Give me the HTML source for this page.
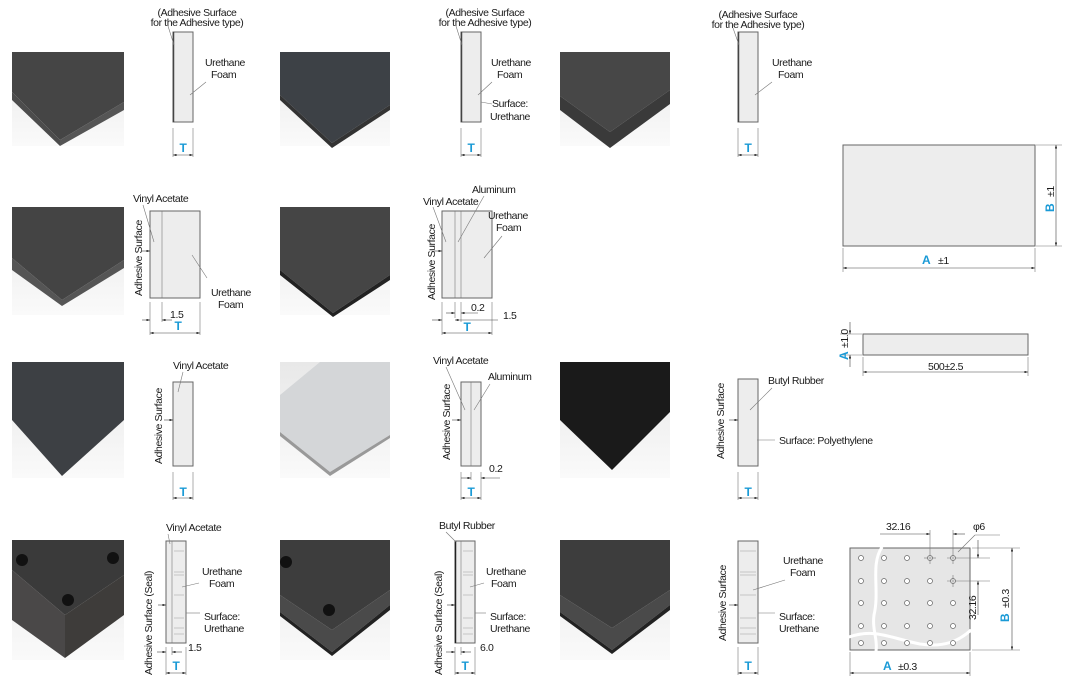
<!DOCTYPE html>
<html><head><style>
body{margin:0;background:#fff}
svg{display:block;font-family:"Liberation Sans",sans-serif;font-size:10.5px;letter-spacing:-0.4px}
.t{fill:#1a1a1a}
.b{fill:#1a9ad6;font-weight:bold;font-size:12px}
.r{fill:#ededed;stroke:#666;stroke-width:1}
.l{stroke:#777;stroke-width:0.6;fill:none}
.d{stroke:#444;stroke-width:0.6;fill:none}
</style></head><body>
<svg width="1069" height="690" viewBox="0 0 1069 690">
<defs>
<linearGradient id="bg" x1="0" y1="0" x2="0" y2="1"><stop offset="0" stop-color="#e8e8e8"/><stop offset="1" stop-color="#fafafa"/></linearGradient>
<marker id="a" viewBox="0 0 6 4" refX="6" refY="2" markerWidth="6" markerHeight="4" orient="auto-start-reverse"><path d="M0,0L6,2L0,4z" fill="#222"/></marker>
</defs>

<g>
<rect x="12" y="52" width="112" height="94" fill="url(#bg)"/>
<polygon points="12,52 124,52 124,102 60,140 12,92" fill="#454545"/>
<polygon points="12,92 60,140 60,146 12,100" fill="#4c4c4c"/>
<polygon points="60,140 124,102 124,110 60,146" fill="#555"/>
<rect x="280" y="52" width="110" height="94" fill="url(#bg)"/>
<polygon points="280,52 390,52 390,105 332,143 280,95" fill="#3d4146"/>
<polygon points="280,95 332,143 390,105 390,110 332,148 280,100" fill="#333"/>
<rect x="560" y="52" width="110" height="94" fill="url(#bg)"/>
<polygon points="560,52 670,52 670,90 610,132 560,96" fill="#474747"/>
<polygon points="560,96 610,132 670,90 670,104 610,148 560,110" fill="#3a3a3a"/>
<rect x="12" y="207" width="112" height="108" fill="url(#bg)"/>
<polygon points="12,207 124,207 124,260 62,300 12,258" fill="#444"/>
<polygon points="12,258 62,300 124,260 124,268 62,306 12,270" fill="#555"/>
<rect x="280" y="207" width="110" height="108" fill="url(#bg)"/>
<polygon points="280,207 390,207 390,275 333,313 280,270" fill="#454545"/>
<polygon points="280,270 333,313 390,275 390,280 333,317 280,275" fill="#222"/>
<rect x="12" y="362" width="112" height="116" fill="url(#bg)"/>
<polygon points="12,362 124,362 124,420 62,476 12,420" fill="#3d4044"/>
<rect x="280" y="362" width="110" height="116" fill="url(#bg)"/>
<polygon points="280,395 320,362 390,362 390,435 330,472 280,432" fill="#d4d6d8"/>
<polygon points="280,432 330,472 390,435 390,438 330,476 280,436" fill="#999"/>
<rect x="560" y="362" width="110" height="116" fill="url(#bg)"/>
<polygon points="560,362 670,362 670,412 612,470 560,420" fill="#1a1a1a"/>
<rect x="12" y="540" width="112" height="120" fill="url(#bg)"/>
<polygon points="12,540 124,540 124,575 65,615 12,570" fill="#3a3a3a"/>
<polygon points="12,570 65,615 65,658 12,620" fill="#4a4848"/>
<polygon points="65,615 124,575 124,615 65,658" fill="#3e3c3a"/>
<circle cx="22" cy="560" r="6" fill="#111"/><circle cx="113" cy="558" r="6" fill="#111"/><circle cx="68" cy="600" r="6" fill="#111"/>
<rect x="280" y="540" width="110" height="120" fill="url(#bg)"/>
<polygon points="280,540 390,540 390,590 332,630 280,595" fill="#3d3d3d"/>
<polygon points="280,595 332,630 390,590 390,605 332,652 280,612" fill="#4a4a4a"/>
<polygon points="280,612 332,652 390,605 390,610 332,656 280,616" fill="#222"/>
<circle cx="286" cy="562" r="6" fill="#111"/><circle cx="329" cy="610" r="6" fill="#111"/>
<rect x="560" y="540" width="110" height="120" fill="url(#bg)"/>
<polygon points="560,540 670,540 670,590 612,628 560,595" fill="#3d3d3d"/>
<polygon points="560,595 612,628 670,590 670,605 612,650 560,612" fill="#4a4a4a"/>
<polygon points="560,612 612,650 670,605 670,610 612,654 560,616" fill="#222"/>
</g>

<g>
<rect class="r" x="173" y="32" width="20" height="90"/><line x1="173.5" y1="32" x2="173.5" y2="122" stroke="#444" stroke-width="1.5"/>
<text class="t" x="197" y="16" text-anchor="middle">(Adhesive Surface</text><text class="t" x="197" y="26" text-anchor="middle">for the Adhesive type)</text>
<line class="l" x1="168" y1="26" x2="174" y2="45"/>
<text class="t" x="205" y="66">Urethane</text><text class="t" x="211" y="78">Foam</text><line class="l" x1="206" y1="82" x2="190" y2="95"/>
<line class="l" x1="173" y1="128" x2="173" y2="157"/><line class="l" x1="193" y1="128" x2="193" y2="157"/>
<text class="b" x="183" y="152" text-anchor="middle">T</text><line class="d" x1="173" y1="155" x2="193" y2="155" marker-start="url(#a)" marker-end="url(#a)"/>

<rect class="r" x="461" y="32" width="20" height="90"/><line x1="461.5" y1="32" x2="461.5" y2="122" stroke="#444" stroke-width="1.5"/>
<text class="t" x="485" y="16" text-anchor="middle">(Adhesive Surface</text><text class="t" x="485" y="26" text-anchor="middle">for the Adhesive type)</text>
<line class="l" x1="456" y1="26" x2="462" y2="45"/>
<text class="t" x="491" y="66">Urethane</text><text class="t" x="497" y="78">Foam</text><line class="l" x1="492" y1="82" x2="478" y2="95"/>
<text class="t" x="492" y="107">Surface:</text><text class="t" x="490" y="120">Urethane</text><line class="l" x1="481" y1="102" x2="492" y2="104"/>
<line class="l" x1="461" y1="128" x2="461" y2="157"/><line class="l" x1="481" y1="128" x2="481" y2="157"/>
<text class="b" x="471" y="152" text-anchor="middle">T</text><line class="d" x1="461" y1="155" x2="481" y2="155" marker-start="url(#a)" marker-end="url(#a)"/>

<rect class="r" x="738" y="32" width="20" height="90"/><line x1="738.5" y1="32" x2="738.5" y2="122" stroke="#444" stroke-width="1.5"/>
<text class="t" x="758" y="18" text-anchor="middle">(Adhesive Surface</text><text class="t" x="758" y="28" text-anchor="middle">for the Adhesive type)</text>
<line class="l" x1="733" y1="28" x2="739" y2="45"/>
<text class="t" x="772" y="66">Urethane</text><text class="t" x="778" y="78">Foam</text><line class="l" x1="772" y1="82" x2="755" y2="95"/>
<line class="l" x1="738" y1="128" x2="738" y2="157"/><line class="l" x1="758" y1="128" x2="758" y2="157"/>
<text class="b" x="748" y="152" text-anchor="middle">T</text><line class="d" x1="738" y1="155" x2="758" y2="155" marker-start="url(#a)" marker-end="url(#a)"/>
</g>

<g>
<rect class="r" x="150" y="211" width="50" height="87"/><line class="l" x1="162" y1="211" x2="162" y2="298"/>
<text class="t" x="133" y="202">Vinyl Acetate</text><line class="l" x1="143" y1="205" x2="154" y2="242"/>
<text class="t" transform="translate(142,296) rotate(-90)">Adhesive Surface</text>
<line class="d" x1="142" y1="251" x2="150" y2="251" marker-end="url(#a)"/>
<text class="t" x="211" y="296">Urethane</text><text class="t" x="218" y="308">Foam</text><line class="l" x1="207" y1="278" x2="192" y2="255"/>
<line class="l" x1="150" y1="302" x2="150" y2="335"/><line class="l" x1="162" y1="302" x2="162" y2="322"/><line class="l" x1="200" y1="302" x2="200" y2="335"/>
<text class="t" x="170" y="318">1.5</text><line class="d" x1="142" y1="320" x2="150" y2="320" marker-end="url(#a)"/><line class="d" x1="162" y1="320" x2="172" y2="320" marker-start="url(#a)"/>
<text class="b" x="178" y="330" text-anchor="middle">T</text><line class="d" x1="150" y1="333" x2="200" y2="333" marker-start="url(#a)" marker-end="url(#a)"/>

<rect class="r" x="442" y="211" width="50" height="87"/><line class="l" x1="455" y1="211" x2="455" y2="298"/><line class="l" x1="461" y1="211" x2="461" y2="298"/>
<text class="t" x="423" y="205">Vinyl Acetate</text><line class="l" x1="433" y1="207" x2="446" y2="242"/>
<text class="t" x="472" y="193">Aluminum</text><line class="l" x1="484" y1="196" x2="458" y2="242"/>
<text class="t" x="488" y="219">Urethane</text><text class="t" x="496" y="231">Foam</text><line class="l" x1="502" y1="236" x2="484" y2="258"/>
<text class="t" transform="translate(435,300) rotate(-90)">Adhesive Surface</text>
<line class="d" x1="434" y1="251" x2="442" y2="251" marker-end="url(#a)"/>
<line class="l" x1="442" y1="302" x2="442" y2="335"/><line class="l" x1="455" y1="302" x2="455" y2="318"/><line class="l" x1="461" y1="302" x2="461" y2="322"/><line class="l" x1="492" y1="302" x2="492" y2="335"/>
<line class="d" x1="446" y1="313" x2="455" y2="313" marker-end="url(#a)"/><line class="d" x1="461" y1="313" x2="478" y2="313" marker-start="url(#a)"/><text class="t" x="471" y="311">0.2</text>
<line class="d" x1="432" y1="320" x2="442" y2="320" marker-end="url(#a)"/><line class="d" x1="455" y1="320" x2="498" y2="320" marker-start="url(#a)"/><text class="t" x="503" y="319">1.5</text>
<text class="b" x="467" y="331" text-anchor="middle">T</text><line class="d" x1="442" y1="333" x2="492" y2="333" marker-start="url(#a)" marker-end="url(#a)"/>
</g>

<g>
<rect class="r" x="173" y="382" width="20" height="84"/>
<text class="t" x="173" y="369">Vinyl Acetate</text><line class="l" x1="183" y1="372" x2="178" y2="392"/>
<text class="t" transform="translate(162,464) rotate(-90)">Adhesive Surface</text>
<line class="d" x1="164" y1="420" x2="173" y2="420" marker-end="url(#a)"/>
<line class="l" x1="173" y1="472" x2="173" y2="500"/><line class="l" x1="193" y1="472" x2="193" y2="500"/>
<text class="b" x="183" y="496" text-anchor="middle">T</text><line class="d" x1="173" y1="498" x2="193" y2="498" marker-start="url(#a)" marker-end="url(#a)"/>

<rect class="r" x="461" y="382" width="20" height="84"/><line class="l" x1="471" y1="382" x2="471" y2="466"/>
<text class="t" x="433" y="364">Vinyl Acetate</text><line class="l" x1="446" y1="367" x2="465" y2="410"/>
<text class="t" x="488" y="380">Aluminum</text><line class="l" x1="490" y1="384" x2="474" y2="410"/>
<text class="t" transform="translate(450,460) rotate(-90)">Adhesive Surface</text>
<line class="d" x1="452" y1="420" x2="461" y2="420" marker-end="url(#a)"/>
<line class="l" x1="461" y1="472" x2="461" y2="500"/><line class="l" x1="471" y1="472" x2="471" y2="480"/><line class="l" x1="481" y1="472" x2="481" y2="500"/>
<line class="d" x1="461" y1="478" x2="471" y2="478" marker-end="url(#a)"/><line class="d" x1="481" y1="478" x2="500" y2="478" marker-start="url(#a)"/><text class="t" x="489" y="472">0.2</text>
<text class="b" x="471" y="496" text-anchor="middle">T</text><line class="d" x1="461" y1="498" x2="481" y2="498" marker-start="url(#a)" marker-end="url(#a)"/>

<rect class="r" x="738" y="379" width="20" height="87"/>
<text class="t" x="768" y="384">Butyl Rubber</text><line class="l" x1="772" y1="388" x2="750" y2="410"/>
<text class="t" x="779" y="444">Surface: Polyethylene</text><line class="l" x1="757" y1="440" x2="775" y2="440"/>
<text class="t" transform="translate(724,459) rotate(-90)">Adhesive Surface</text>
<line class="d" x1="729" y1="420" x2="738" y2="420" marker-end="url(#a)"/>
<line class="l" x1="738" y1="472" x2="738" y2="500"/><line class="l" x1="758" y1="472" x2="758" y2="500"/>
<text class="b" x="748" y="496" text-anchor="middle">T</text><line class="d" x1="738" y1="498" x2="758" y2="498" marker-start="url(#a)" marker-end="url(#a)"/>
</g>

<g>
<rect class="r" x="166" y="541" width="20" height="102"/><line class="l" x1="172" y1="541" x2="172" y2="643"/>
<g stroke="#aaa" stroke-width="0.6"><line x1="174" y1="551" x2="184" y2="551"/><line x1="174" y1="572" x2="184" y2="572"/><line x1="174" y1="575" x2="184" y2="575"/><line x1="174" y1="595" x2="184" y2="595"/><line x1="174" y1="618" x2="184" y2="618"/><line x1="174" y1="628" x2="184" y2="628"/><line x1="174" y1="634" x2="184" y2="634"/></g>
<text class="t" x="166" y="531">Vinyl Acetate</text><line class="l" x1="168" y1="534" x2="170" y2="544"/>
<text class="t" x="202" y="575">Urethane</text><text class="t" x="209" y="587">Foam</text><line class="l" x1="199" y1="583" x2="182" y2="587"/>
<text class="t" x="204" y="620">Surface:</text><text class="t" x="204" y="632">Urethane</text><line class="l" x1="186" y1="613" x2="200" y2="613"/>
<text class="t" transform="translate(152,675) rotate(-90)">Adhesive Surface (Seal)</text>
<line class="d" x1="158" y1="605" x2="166" y2="605" marker-end="url(#a)"/>
<line class="l" x1="166" y1="647" x2="166" y2="675"/><line class="l" x1="172" y1="647" x2="172" y2="655"/><line class="l" x1="186" y1="647" x2="186" y2="675"/>
<line class="d" x1="157" y1="652" x2="166" y2="652" marker-end="url(#a)"/><line class="d" x1="172" y1="652" x2="182" y2="652" marker-start="url(#a)"/><text class="t" x="188" y="651">1.5</text>
<text class="b" x="176" y="670" text-anchor="middle">T</text><line class="d" x1="166" y1="673" x2="186" y2="673" marker-start="url(#a)" marker-end="url(#a)"/>

<rect class="r" x="455" y="541" width="20" height="102"/><line x1="455.5" y1="541" x2="455.5" y2="643" stroke="#222" stroke-width="1.5"/><line class="l" x1="461" y1="541" x2="461" y2="643"/>
<g stroke="#aaa" stroke-width="0.6"><line x1="463" y1="551" x2="473" y2="551"/><line x1="463" y1="572" x2="473" y2="572"/><line x1="463" y1="575" x2="473" y2="575"/><line x1="463" y1="595" x2="473" y2="595"/><line x1="463" y1="618" x2="473" y2="618"/><line x1="463" y1="628" x2="473" y2="628"/><line x1="463" y1="634" x2="473" y2="634"/></g>
<text class="t" x="439" y="529">Butyl Rubber</text><line class="l" x1="446" y1="532" x2="456" y2="542"/>
<text class="t" x="486" y="575">Urethane</text><text class="t" x="491" y="587">Foam</text><line class="l" x1="484" y1="583" x2="470" y2="587"/>
<text class="t" x="490" y="620">Surface:</text><text class="t" x="490" y="632">Urethane</text><line class="l" x1="475" y1="613" x2="486" y2="613"/>
<text class="t" transform="translate(442,675) rotate(-90)">Adhesive Surface (Seal)</text>
<line class="d" x1="447" y1="605" x2="455" y2="605" marker-end="url(#a)"/>
<line class="l" x1="455" y1="647" x2="455" y2="675"/><line class="l" x1="461" y1="647" x2="461" y2="655"/><line class="l" x1="475" y1="647" x2="475" y2="675"/>
<line class="d" x1="446" y1="652" x2="455" y2="652" marker-end="url(#a)"/><line class="d" x1="461" y1="652" x2="471" y2="652" marker-start="url(#a)"/><text class="t" x="480" y="651">6.0</text>
<text class="b" x="465" y="670" text-anchor="middle">T</text><line class="d" x1="455" y1="673" x2="475" y2="673" marker-start="url(#a)" marker-end="url(#a)"/>

<rect class="r" x="738" y="541" width="20" height="102"/>
<g stroke="#aaa" stroke-width="0.6"><line x1="740" y1="551" x2="756" y2="551"/><line x1="740" y1="572" x2="756" y2="572"/><line x1="740" y1="575" x2="756" y2="575"/><line x1="740" y1="595" x2="756" y2="595"/><line x1="740" y1="618" x2="756" y2="618"/><line x1="740" y1="628" x2="756" y2="628"/><line x1="740" y1="634" x2="756" y2="634"/></g>
<text class="t" x="783" y="564">Urethane</text><text class="t" x="790" y="576">Foam</text><line class="l" x1="785" y1="580" x2="753" y2="590"/>
<text class="t" x="779" y="620">Surface:</text><text class="t" x="779" y="632">Urethane</text><line class="l" x1="758" y1="613" x2="775" y2="613"/>
<text class="t" transform="translate(726,641) rotate(-90)">Adhesive Surface</text>
<line class="d" x1="729" y1="605" x2="738" y2="605" marker-end="url(#a)"/>
<line class="l" x1="738" y1="647" x2="738" y2="675"/><line class="l" x1="758" y1="647" x2="758" y2="675"/>
<text class="b" x="748" y="670" text-anchor="middle">T</text><line class="d" x1="738" y1="673" x2="758" y2="673" marker-start="url(#a)" marker-end="url(#a)"/>
</g>

<g>
<rect class="r" x="843" y="145" width="192" height="101" fill="#f0f0f0"/>
<line class="l" x1="1036" y1="145" x2="1062" y2="145"/><line class="l" x1="1036" y1="246" x2="1062" y2="246"/>
<line class="d" x1="1056" y1="145" x2="1056" y2="246" marker-start="url(#a)" marker-end="url(#a)"/>
<g transform="translate(1054,212) rotate(-90)"><text class="b">B</text><text class="t" x="15">±1</text></g>
<line class="l" x1="843" y1="248" x2="843" y2="272"/><line class="l" x1="1035" y1="248" x2="1035" y2="272"/>
<line class="d" x1="843" y1="268" x2="1035" y2="268" marker-start="url(#a)" marker-end="url(#a)"/>
<text class="b" x="922" y="264">A</text><text class="t" x="938" y="264">±1</text>

<rect class="r" x="863" y="334" width="165" height="21"/>
<line class="l" x1="840" y1="334" x2="862" y2="334"/><line class="l" x1="840" y1="355" x2="862" y2="355"/>
<line class="d" x1="850" y1="322" x2="850" y2="334" marker-end="url(#a)"/><line class="d" x1="850" y1="367" x2="850" y2="355" marker-end="url(#a)"/>
<g transform="translate(848,360) rotate(-90)"><text class="b">A</text><text class="t" x="12">±1.0</text></g>
<line class="l" x1="863" y1="357" x2="863" y2="376"/><line class="l" x1="1028" y1="357" x2="1028" y2="376"/>
<line class="d" x1="863" y1="372" x2="1028" y2="372" marker-start="url(#a)" marker-end="url(#a)"/>
<text class="t" x="928" y="370">500±2.5</text>

<rect x="850" y="548" width="120" height="102" fill="#e6e6e6" stroke="#666" stroke-width="1"/>
<path d="M882,547 C870,565 880,590 874,615 C872,630 878,640 876,651" stroke="#fff" stroke-width="3" fill="none"/>
<path d="M849,637 C875,628 890,638 920,644 C945,648 960,640 971,630" stroke="#fff" stroke-width="3" fill="none"/>
<g fill="#fff" stroke="#666" stroke-width="0.7">
<circle cx="861" cy="558" r="2.5"/><circle cx="884" cy="558" r="2.5"/><circle cx="907" cy="558" r="2.5"/>
<circle cx="861" cy="581" r="2.5"/><circle cx="884" cy="581" r="2.5"/><circle cx="907" cy="581" r="2.5"/><circle cx="930" cy="581" r="2.5"/>
<circle cx="861" cy="603" r="2.5"/><circle cx="884" cy="603" r="2.5"/><circle cx="907" cy="603" r="2.5"/><circle cx="930" cy="603" r="2.5"/><circle cx="953" cy="603" r="2.5"/>
<circle cx="861" cy="626" r="2.5"/><circle cx="884" cy="626" r="2.5"/><circle cx="907" cy="626" r="2.5"/><circle cx="930" cy="626" r="2.5"/><circle cx="953" cy="626" r="2.5"/>
<circle cx="861" cy="643" r="2.5"/><circle cx="884" cy="643" r="2.5"/><circle cx="907" cy="643" r="2.5"/><circle cx="930" cy="643" r="2.5"/><circle cx="953" cy="643" r="2.5"/>
<circle cx="930" cy="558" r="2.5"/><circle cx="953" cy="558" r="2.5"/><circle cx="953" cy="581" r="2.5"/>
</g>
<g class="l"><line x1="924" y1="558" x2="936" y2="558"/><line x1="930" y1="552" x2="930" y2="564"/><line x1="947" y1="558" x2="990" y2="558"/><line x1="953" y1="552" x2="953" y2="564"/><line x1="947" y1="581" x2="990" y2="581"/><line x1="953" y1="575" x2="953" y2="587"/>
<line x1="930" y1="530" x2="930" y2="552"/><line x1="953" y1="530" x2="953" y2="552"/>
<line x1="972" y1="548" x2="1020" y2="548"/><line x1="972" y1="650" x2="1020" y2="650"/>
<line x1="850" y1="652" x2="850" y2="676"/><line x1="970" y1="652" x2="970" y2="676"/>
<line x1="958" y1="552" x2="975" y2="535"/><line x1="975" y1="535" x2="1000" y2="535"/></g>
<line class="d" x1="880" y1="534" x2="930" y2="534" marker-end="url(#a)"/><line class="d" x1="965" y1="534" x2="953" y2="534" marker-end="url(#a)"/>
<text class="t" x="886" y="530">32.16</text><text class="t" x="973" y="530">φ6</text>
<line class="d" x1="978" y1="540" x2="978" y2="558" marker-end="url(#a)"/><line class="d" x1="978" y1="615" x2="978" y2="581" marker-end="url(#a)"/>
<text class="t" transform="translate(976,620) rotate(-90)">32.16</text>
<line class="d" x1="1012" y1="548" x2="1012" y2="650" marker-start="url(#a)" marker-end="url(#a)"/>
<g transform="translate(1009,622) rotate(-90)"><text class="b">B</text><text class="t" x="14">±0.3</text></g>
<line class="d" x1="850" y1="673" x2="970" y2="673" marker-start="url(#a)" marker-end="url(#a)"/>
<text class="b" x="883" y="670">A</text><text class="t" x="898" y="670">±0.3</text>
</g>
</svg>
</body></html>
